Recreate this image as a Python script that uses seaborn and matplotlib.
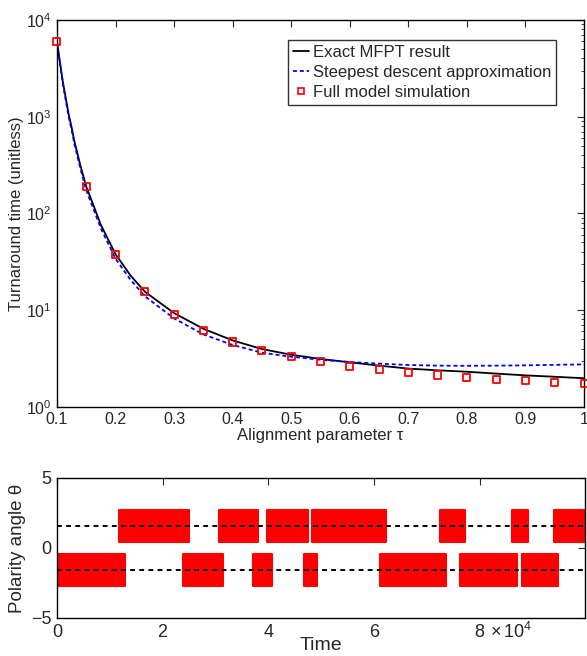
import numpy as np
import pandas as pd
import matplotlib
matplotlib.use("Agg")
import matplotlib.pyplot as plt
import matplotlib.transforms as mtransforms
from matplotlib.lines import Line2D
import seaborn as sns

# --- Data ---
# top panel: turnaround time vs alignment parameter tau
tau_exact = [0.10, 0.11, 0.12, 0.125, 0.13, 0.14, 0.15, 0.175, 0.20, 0.225, 0.25,
             0.30, 0.35, 0.40, 0.45, 0.50, 0.55, 0.60, 0.65, 0.70, 0.75, 0.80,
             0.85, 0.90, 0.95, 1.00]
t_exact = [6050, 2310, 1060, 780, 550, 313, 190, 76, 37.9, 23.0, 15.5,
           9.3, 6.4, 4.85, 3.95, 3.45, 3.12, 2.88, 2.66, 2.48, 2.38, 2.30,
           2.20, 2.11, 2.04, 1.97]

tau_sd = [0.10, 0.11, 0.12, 0.125, 0.13, 0.14, 0.15, 0.175, 0.20, 0.225, 0.25,
          0.30, 0.35, 0.40, 0.45, 0.50, 0.55, 0.60, 0.65, 0.70, 0.75, 0.80,
          0.85, 0.90, 0.95, 1.00]
t_sd = [5900, 2200, 1000, 735, 515, 292, 174, 70, 34.0, 20.8, 13.9,
        8.2, 5.6, 4.35, 3.62, 3.29, 3.06, 2.90, 2.79, 2.70, 2.66, 2.65,
        2.66, 2.68, 2.71, 2.74]

tau_sim = [0.10, 0.15, 0.20, 0.25, 0.30, 0.35, 0.40, 0.45, 0.50, 0.55,
           0.60, 0.65, 0.70, 0.75, 0.80, 0.85, 0.90, 0.95, 1.00]
t_sim = [6050, 190, 37.9, 15.5, 9.03, 6.17, 4.67, 3.83, 3.29, 2.92,
         2.63, 2.41, 2.26, 2.13, 2.01, 1.93, 1.86, 1.79, 1.72]

# bottom panel: polarity angle trace, blocks of (start, end) in units of 1e4
seg_start = [0.00, 1.17, 2.39, 3.06, 3.72, 3.97, 4.68, 4.82, 6.12, 7.25,
             7.63, 8.61, 8.80, 9.40]
seg_end = [1.29, 2.50, 3.15, 3.81, 4.07, 4.76, 4.93, 6.22, 7.36, 7.73,
           8.71, 8.91, 9.49, 10.0]
seg_state = [-1, 1, -1, 1, -1, 1, -1, 1, -1, 1, -1, 1, -1, 1]
theta_center = np.pi / 2
theta_spread = 1.16

# --- Style ---
sns.set_style("white")
plt.rcParams['font.family'] = ['Liberation Sans', 'DejaVu Sans']
plt.rcParams['mathtext.fontset'] = 'custom'
plt.rcParams['mathtext.rm'] = 'Liberation Sans'
plt.rcParams['mathtext.it'] = 'Liberation Sans:italic'
plt.rcParams['axes.edgecolor'] = 'black'
plt.rcParams['axes.linewidth'] = 1.0

fig = plt.figure(figsize=(5.87, 6.56), dpi=100)
ax1 = fig.add_axes([0.097, 0.380, 0.898, 0.5895])
ax2 = fig.add_axes([0.097, 0.058, 0.900, 0.2134])

# --- Top panel ---
sns.lineplot(x=tau_exact, y=t_exact, ax=ax1, color='black', lw=1.3,
             estimator=None, sort=False)
sns.lineplot(x=tau_sd, y=t_sd, ax=ax1, color='blue', lw=1.3,
             estimator=None, sort=False, dashes=False)
ax1.lines[-1].set_dashes((2.2, 1.6))
sns.scatterplot(x=tau_sim, y=t_sim, ax=ax1, marker='s', s=26, linewidth=1.3,
                zorder=5, clip_on=False)
ax1.collections[-1].set_facecolor('none')
ax1.collections[-1].set_edgecolor('red')

ax1.set_yscale('log')
ax1.set_xlim(0.1, 1.0)
ax1.set_ylim(1, 1e4)
ax1.set_xticks(np.arange(0.1, 1.01, 0.1))
ax1.set_xticklabels(['0.1', '0.2', '0.3', '0.4', '0.5', '0.6', '0.7', '0.8', '0.9', '1'])
ax1.tick_params(which='both', direction='in', top=True, right=True, labelsize=11.5,
                pad=4)
ax1.tick_params(which='major', length=5)
ax1.tick_params(which='minor', length=2.5)
ax1.set_xlabel('Alignment parameter τ', fontsize=12)
ax1.set_ylabel('Turnaround time (unitless)', fontsize=12)
ax1.xaxis.set_label_coords(0.5, -0.056)
ax1.yaxis.set_label_coords(-0.062, 0.5)

handles = [
    Line2D([], [], color='black', lw=1.3),
    Line2D([], [], color='blue', lw=1.3, dashes=(2.2, 1.6)),
    Line2D([], [], color='red', ls='none', marker='s', mfc='none', mec='red',
           ms=4.5, mew=1.2),
]
labels = ['Exact MFPT result', 'Steepest descent approximation', 'Full model simulation']
leg = ax1.legend(handles, labels, loc='upper right', bbox_to_anchor=(0.947, 0.948),
                 borderaxespad=0, fontsize=12, handlelength=1.0, handletextpad=0.2,
                 labelspacing=0.3, borderpad=0.3, frameon=True, fancybox=False)
leg.get_frame().set_edgecolor('black')
leg.get_frame().set_linewidth(1.0)

# --- Bottom panel ---
for s, e, st in zip(seg_start, seg_end, seg_state):
    c = st * theta_center
    ax2.fill_between([s * 1e4, e * 1e4], [c - theta_spread] * 2, [c + theta_spread] * 2,
                     color='red', edgecolor='red', lw=1.5, zorder=2)
for c in (theta_center, -theta_center):
    ax2.axhline(c, color='black', ls=(0, (2.5, 2.2)), lw=1.4, zorder=3)

ax2.set_xlim(0, 1e5)
ax2.set_ylim(-5, 5)
ax2.set_yticks([-5, 0, 5])
ax2.set_xticks([0, 2e4, 4e4, 6e4, 8e4])
ax2.set_xticklabels(['0', '2', '4', '6', '8'])
ax2.tick_params(direction='in', top=True, right=True, labelsize=13, length=5, pad=4)
trans = mtransforms.blended_transform_factory(ax2.transData, ax2.transAxes)
ax2.text(8.2e4, -0.03, r'$\times\,10^{4}$', transform=trans, ha='left', va='top',
         fontsize=13)
ax2.set_xlabel('Time', fontsize=14)
ax2.set_ylabel('Polarity angle θ', fontsize=13.5)
ax2.xaxis.set_label_coords(0.5, -0.135)
ax2.yaxis.set_label_coords(-0.058, 0.5)

fig.savefig('out.png', dpi=100)
